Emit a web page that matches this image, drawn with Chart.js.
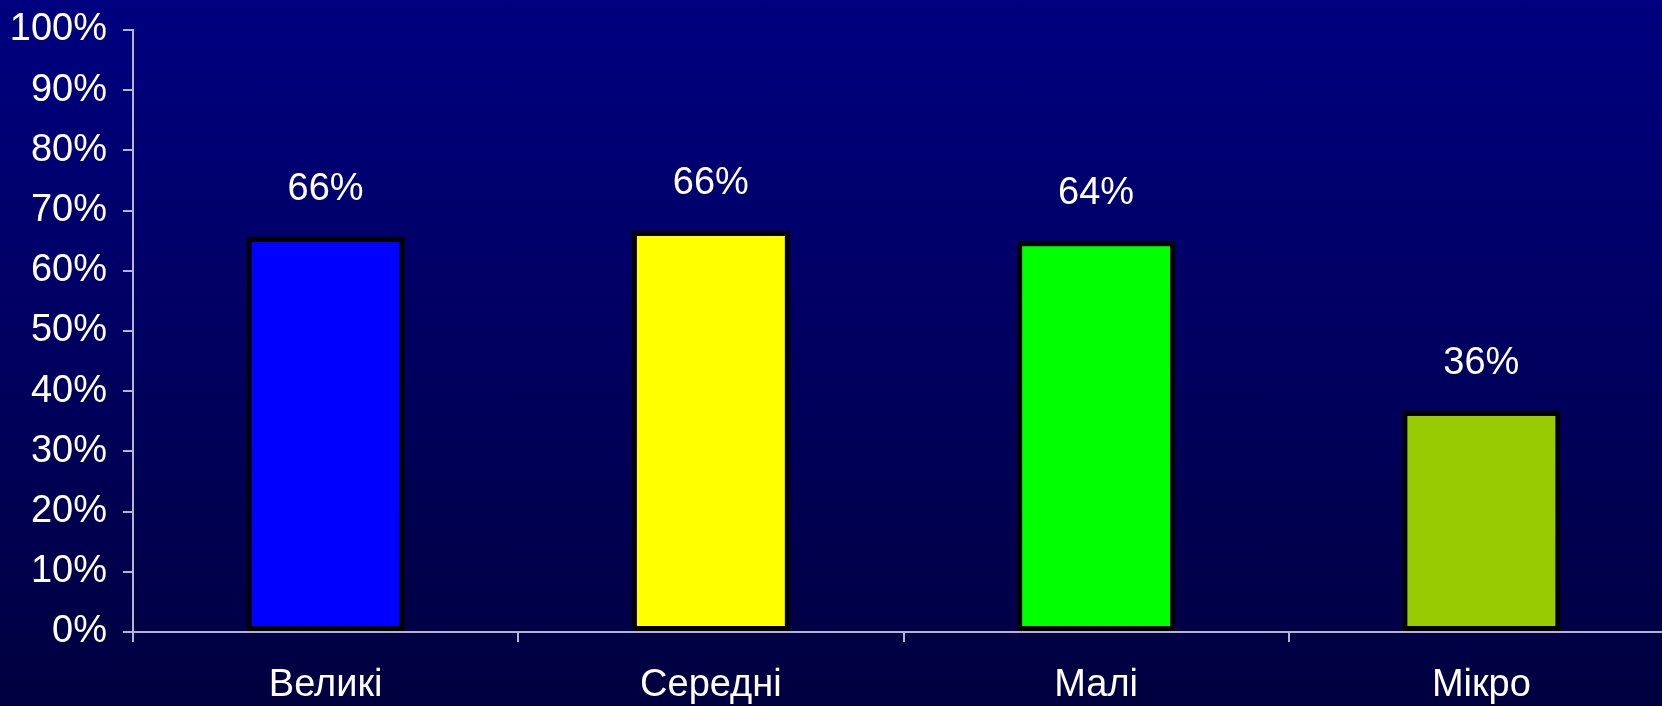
<!DOCTYPE html>
<html>
<head>
<meta charset="utf-8">
<script src="https://cdn.jsdelivr.net/npm/chart.js@4"></script>
<style>
	html, body {
		margin: 0;
		padding: 0;
		overflow: hidden;
		width: 1662px;
		height: 706px;
		background: linear-gradient(to bottom, #000080 0%, #00003f 100%);
	}
	#wrap {
		position: absolute;
		left: 0;
		top: 0;
		width: 1674px;
		height: 706px;
	}
</style>
</head>
<body>
<div id="wrap">
	<canvas id="myChartEmpresas" width="1674" height="706"></canvas>
</div>
<script>
// datos
const categorias = ["Великі", "Середні", "Малі", "Мікро"];
const valores = [65.6, 66.6, 64.9, 36.7];
const etiquetas = ["66%", "66%", "64%", "36%"];
const colores = ["#0000ff", "#ffff00", "#00ff00", "#99cc00"];

const fuente = "'Liberation Sans', Arial, sans-serif";
const colorEje = "#b4b4cc";

// etiquetas encima de las barras
const etiquetasBarras = {
	id: "etiquetasBarras",
	afterDatasetsDraw(chart) {
		const ctx = chart.ctx;
		const meta = chart.getDatasetMeta(0);
		ctx.save();
		ctx.fillStyle = "#ffffff";
		ctx.font = "38px " + fuente;
		ctx.textAlign = "center";
		ctx.textBaseline = "alphabetic";
		meta.data.forEach((bar, i) => {
			ctx.fillText(etiquetas[i], bar.x, bar.y - 37);
		});
		ctx.restore();
	}
};

const ctx1 = document.getElementById("myChartEmpresas");

new Chart(ctx1, {
	type: "bar",
	data: {
		labels: categorias,
		datasets: [
			{
				data: valores,
				backgroundColor: colores,
				borderColor: "#000000",
				borderWidth: 5,
				borderSkipped: false,
				categoryPercentage: 1,
				barPercentage: 0.41
			}
		]
	},
	options: {
		responsive: false,
		animation: false,
		devicePixelRatio: 1,
		layout: {
			padding: { top: 30, right: 0, bottom: 0, left: 0 }
		},
		plugins: {
			legend: { display: false },
			tooltip: { enabled: false }
		},
		scales: {
			x: {
				grid: {
					drawOnChartArea: false,
					color: colorEje,
					lineWidth: 2,
					tickLength: 10
				},
				border: { color: colorEje, width: 2 },
				ticks: {
					color: "#ffffff",
					padding: 21,
					font: { family: fuente, size: 38 }
				},
				afterFit(scale) {
					scale.height = 74;
				}
			},
			y: {
				min: 0,
				max: 100,
				grid: {
					drawOnChartArea: false,
					color: colorEje,
					lineWidth: 2,
					tickLength: 10
				},
				border: { color: colorEje, width: 2 },
				ticks: {
					stepSize: 10,
					color: "#ffffff",
					padding: 16,
					font: { family: fuente, size: 38 },
					callback: (v) => v + "%"
				},
				afterFit(scale) {
					scale.width = 133;
					scale.paddingTop = 0;
					scale.paddingBottom = 0;
				}
			}
		}
	},
	plugins: [etiquetasBarras]
});
</script>
</body>
</html>
